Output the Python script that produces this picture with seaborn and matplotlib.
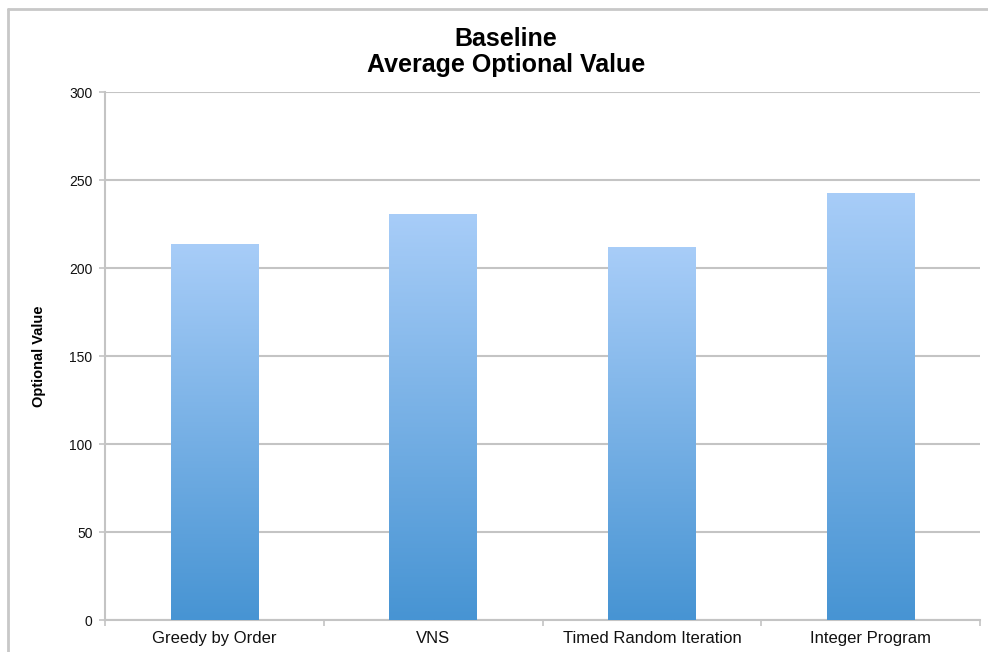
import numpy as np
import pandas as pd
import matplotlib
matplotlib.use("Agg")
import matplotlib.pyplot as plt
from matplotlib.lines import Line2D
from matplotlib.colors import LinearSegmentedColormap
import seaborn as sns

categories = ["Greedy by Order", "VNS", "Timed Random Iteration", "Integer Program"]
values = [214, 231, 212, 243]
y_ticks = [0, 50, 100, 150, 200, 250, 300]

sns.set_theme(style="white")
plt.rcParams['font.family'] = ['Liberation Sans', 'DejaVu Sans']
plt.rcParams['text.color'] = 'black'
plt.rcParams['axes.labelcolor'] = 'black'

fig = plt.figure(figsize=(9.88, 6.52), dpi=100)
ax = fig.add_axes([105/988, 1 - 620/652, 875/988, (620 - 92.5)/652])

df = pd.DataFrame({"method": categories, "value": values})
sns.barplot(data=df, x="method", y="value", color="#78b0e6", width=0.4,
            saturation=1, ax=ax, zorder=3)

# gradient fill for each bar
cmap = LinearSegmentedColormap.from_list("g", ["#4794d3", "#a8cdf8"])
grad = np.linspace(0, 1, 256).reshape(-1, 1)
for p in ax.patches:
    x0, y0 = p.get_x(), p.get_y()
    w, h = p.get_width(), p.get_height()
    p.set_facecolor("none")
    p.set_edgecolor("none")
    im = ax.imshow(grad, cmap=cmap, origin="lower", aspect="auto",
                   extent=[x0, x0 + w, y0, y0 + h], zorder=3,
                   interpolation="bilinear")
    im.set_clip_path(p)
ax.set_xlim(-0.5, len(categories) - 0.5)
ax.set_ylim(0, 300)

grid_c = "#c4c4c4"
ax.set_yticks(y_ticks)
ax.yaxis.grid(True, color=grid_c, linewidth=1.5, zorder=0)
ax.set_axisbelow(True)
for s in ["top", "right"]:
    ax.spines[s].set_visible(False)
for s in ["left", "bottom"]:
    ax.spines[s].set_color(grid_c)
    ax.spines[s].set_linewidth(1.5)

ax.tick_params(axis="y", which="major", left=True, length=4, width=1.2,
               color=grid_c, labelsize=10, pad=5, labelcolor="#111111")
ax.tick_params(axis="x", which="major", bottom=False, length=0,
               labelsize=12, pad=8, labelcolor="#111111")
ax.set_xticks(np.arange(-0.5, len(categories), 1.0), minor=True)
ax.tick_params(axis="x", which="minor", bottom=True, length=4, width=1.2,
               color=grid_c)

ax.set_xlabel("")
ax.set_ylabel("Optional Value", fontsize=10.5, fontweight="bold", color="black")
ax.yaxis.set_label_coords((46 - 105) / 875, 0.5)

fig.text(0.512, 1 - 39/652, "Baseline", ha="center", va="center",
         fontsize=18, fontweight="bold", color="black")
fig.text(0.512, 1 - 65/652, "Average Optional Value", ha="center", va="center",
         fontsize=18, fontweight="bold", color="black")

# outer frame edges
fig.add_artist(Line2D([8/988, 8/988], [0, 1 - 9/652], transform=fig.transFigure,
                      color="#c8c8c8", linewidth=2))
fig.add_artist(Line2D([8/988, 1], [1 - 9/652, 1 - 9/652], transform=fig.transFigure,
                      color="#c8c8c8", linewidth=2))

fig.savefig("out.png", dpi=100, facecolor="white")
